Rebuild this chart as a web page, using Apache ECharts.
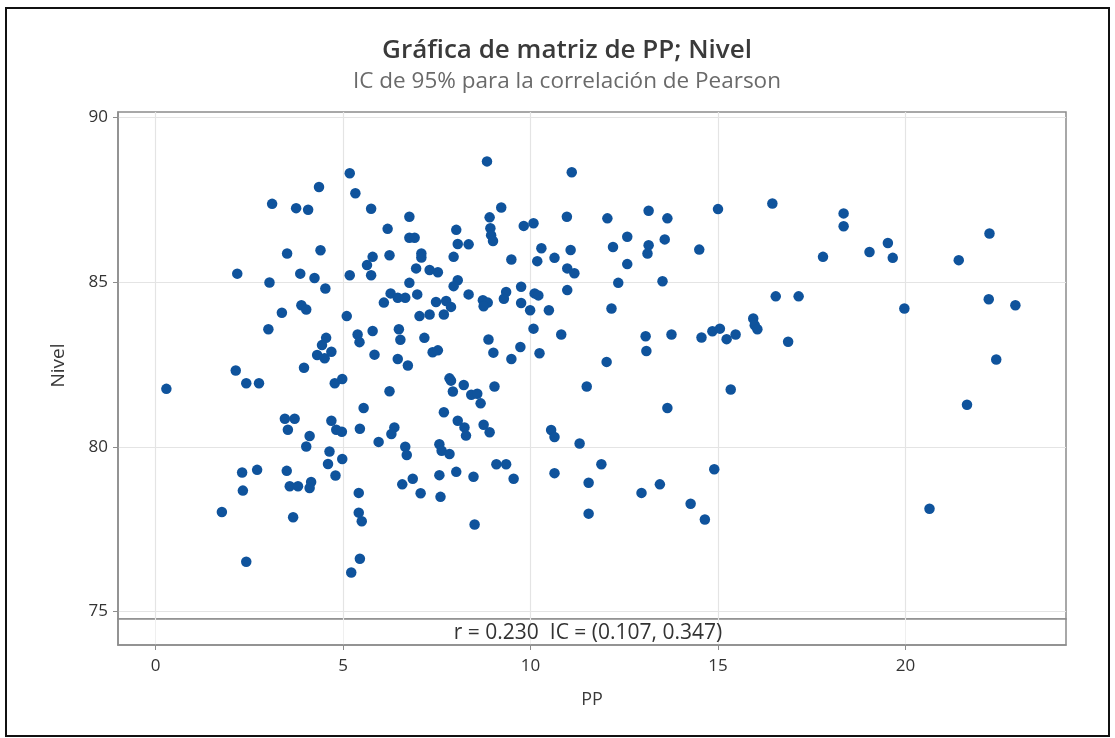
<!DOCTYPE html>
<html>
<head>
<meta charset="utf-8">
<script src="https://cdn.jsdelivr.net/npm/echarts@6/dist/echarts.min.js"></script>
<style>
html,body{margin:0;padding:0;background:#fff;}
#chart{width:1115px;height:738px;}
</style>
</head>
<body>
<div id="chart"></div>
<script>
const titleText = 'Gráfica de matriz de PP; Nivel';
const subtitleText = 'IC de 95% para la correlación de Pearson';
const corrText = 'r = 0.230  IC = (0.107, 0.347)';
const xName = 'PP';
const yName = 'Nivel';
const xTickValues = [0, 5, 10, 15, 20];
const yTickValues = [75, 80, 85, 90];

const ppValues = [
  5.18, 4.36, 5.33, 3.11, 3.75, 4.07, 3.51, 4.40, 2.18, 3.86,
  4.24, 5.18, 3.04, 4.53, 3.89, 4.02, 3.37, 5.10, 3.01, 4.55,
  4.44, 4.69, 4.31, 4.51, 2.14, 3.96,
  0.29, 2.42, 2.76, 4.78, 4.98, 3.45, 3.71, 3.53, 4.69, 4.82,
  4.97, 5.45, 4.11, 4.02, 4.64, 4.60, 4.98, 4.80, 5.42, 5.42,
  5.45, 5.22, 2.31, 2.71, 3.50, 3.58, 3.80, 4.15, 4.11, 2.33,
  1.77, 3.67, 2.42,
  8.84, 11.10, 5.75, 9.22, 6.77, 8.91, 10.97, 6.19, 6.77, 6.91,
  8.93, 8.95, 9.00, 9.82, 10.08, 8.02, 8.06, 8.35, 10.29, 11.07,
  10.64, 10.18, 9.49, 7.95, 7.09, 7.09, 6.24, 5.79, 5.64, 5.75,
  6.95, 7.31, 7.53, 10.98, 11.17, 8.06, 7.95, 6.77, 9.75, 10.98,
  6.98, 6.27, 6.46, 6.66, 6.09, 8.35, 9.35, 9.29, 8.73, 8.86,
  8.75, 10.11, 10.21, 9.75, 9.99, 10.49, 7.48, 7.75, 7.88, 7.04,
  7.31, 7.69, 5.39, 5.44, 5.79, 6.49, 6.53, 7.17, 10.82, 10.08,
  8.88, 5.84, 6.46, 6.73, 7.39, 7.53, 9.01, 9.73, 9.49, 10.24,
  7.84, 7.88, 7.93, 8.22, 8.42, 8.58, 8.67, 9.04, 11.50, 6.24,
  5.55, 7.69, 8.06, 8.24, 8.28, 8.75, 8.91, 6.37, 6.29, 5.95,
  6.66, 6.70, 7.57, 7.63, 7.84, 10.55, 10.64, 11.31, 9.09, 9.35,
  9.55, 8.02, 8.48, 7.57, 6.86, 6.58, 7.07, 7.60, 10.64, 11.55,
  11.55, 8.51, 5.50,
  16.45, 15.00, 13.15, 12.05, 13.65, 12.58, 13.58, 12.20, 13.15, 13.12,
  14.50, 17.80, 12.58, 12.34, 13.52, 16.54, 17.15, 12.16, 15.94, 15.98,
  16.05, 13.07, 13.76, 14.56, 14.85, 15.05, 15.23, 15.47, 16.87, 13.09,
  12.03,
  13.65, 15.34, 11.89, 14.90, 13.45, 12.96, 14.27, 14.65,
  18.35, 18.35, 22.24, 19.53, 19.04, 19.66, 21.42, 19.97, 22.22, 22.93,
  22.42, 21.64, 20.64
];

const nivelValues = [
  88.31, 87.89, 87.70, 87.38, 87.25, 87.20, 85.87, 85.97, 85.26, 85.26,
  85.13, 85.21, 84.99, 84.81, 84.30, 84.17, 84.07, 83.97, 83.57, 83.31,
  83.09, 82.89, 82.79, 82.69, 82.32, 82.40,
  81.76, 81.93, 81.93, 81.93, 82.06, 80.85, 80.85, 80.52, 80.79, 80.52,
  80.46, 80.55, 80.33, 80.01, 79.86, 79.48, 79.63, 79.13, 78.60, 78.00,
  76.60, 76.18, 79.22, 79.30, 79.27, 78.80, 78.80, 78.93, 78.75, 78.67,
  78.02, 77.86, 76.51,
  88.67, 88.34, 87.23, 87.27, 86.99, 86.97, 86.99, 86.62, 86.35, 86.35,
  86.64, 86.43, 86.25, 86.71, 86.79, 86.59, 86.16, 86.15, 86.03, 85.98,
  85.74, 85.64, 85.69, 85.77, 85.87, 85.75, 85.82, 85.77, 85.52, 85.21,
  85.42, 85.37, 85.30, 85.42, 85.27, 85.06, 84.88, 84.98, 84.86, 84.76,
  84.63, 84.66, 84.53, 84.53, 84.38, 84.63, 84.70, 84.50, 84.45, 84.38,
  84.27, 84.66, 84.60, 84.37, 84.15, 84.15, 84.40, 84.43, 84.25, 83.97,
  84.02, 84.02, 83.41, 83.18, 83.52, 83.57, 83.25, 83.31, 83.41, 83.59,
  83.26, 82.80, 82.67, 82.47, 82.87, 82.93, 82.86, 83.03, 82.67, 82.84,
  82.08, 82.01, 81.68, 81.88, 81.58, 81.61, 81.32, 81.83, 81.83, 81.69,
  81.18, 81.05, 80.79, 80.59, 80.34, 80.67, 80.44, 80.59, 80.39, 80.15,
  80.00, 79.75, 80.08, 79.88, 79.78, 80.51, 80.30, 80.10, 79.47, 79.47,
  79.03, 79.24, 79.09, 79.14, 79.03, 78.86, 78.59, 78.48, 79.20, 78.91,
  77.97, 77.64, 77.74,
  87.39, 87.22, 87.17, 86.94, 86.94, 86.38, 86.30, 86.07, 86.12, 85.87,
  85.99, 85.77, 85.55, 84.98, 85.03, 84.57, 84.57, 84.20, 83.90, 83.69,
  83.57, 83.36, 83.41, 83.32, 83.51, 83.59, 83.27, 83.41, 83.19, 82.91,
  82.58,
  81.18, 81.74, 79.47, 79.32, 78.86, 78.60, 78.27, 77.79,
  87.09, 86.70, 86.48, 86.19, 85.92, 85.74, 85.67, 84.20, 84.48, 84.30,
  82.65, 81.28, 78.12
];

const points = ppValues.map((v, i) => [v, nivelValues[i]]);

const FONT = '"Open Sans", "Noto Sans", sans-serif';
const chart = echarts.init(document.getElementById('chart'), null, {renderer: 'canvas'});

const option = {
  backgroundColor: '#ffffff',
  animation: false,
  title: [
    {
      text: titleText,
      left: 562, top: 33, textAlign: 'center',
      textStyle: {fontFamily: FONT, fontSize: 26, fontWeight: 600, color: '#3a3a3a'}
    },
    {
      text: subtitleText,
      left: 562, top: 65, textAlign: 'center',
      textStyle: {fontFamily: FONT, fontSize: 22.5, fontWeight: 'normal', color: '#6a6a6a'}
    }
  ],
  grid: [
    {left: 118, top: 112, width: 948, height: 507, show: true, borderColor: '#8c8c8c', borderWidth: 1.5, backgroundColor: '#fff'},
    {left: 118, top: 619, width: 948, height: 26, show: true, borderColor: '#8c8c8c', borderWidth: 1.5, backgroundColor: '#fff'}
  ],
  xAxis: [
    {
      gridIndex: 0, type: 'value', min: -1.0, max: 24.28,
      axisLine: {show: false, onZero: false},
      axisTick: {show: false, customValues: xTickValues},
      axisLabel: {show: false, customValues: xTickValues},
      splitLine: {show: true, lineStyle: {color: '#e4e4e4', width: 1.2}}
    },
    {
      gridIndex: 1, type: 'value', min: -1.0, max: 24.28,
      name: xName, nameLocation: 'middle', nameGap: 46,
      nameTextStyle: {fontFamily: FONT, fontSize: 18, color: '#3a3a3a'},
      axisLine: {show: true, onZero: false, lineStyle: {color: '#8c8c8c', width: 1.5}},
      axisTick: {show: true, length: 5, customValues: xTickValues, lineStyle: {color: '#8c8c8c'}},
      axisLabel: {show: true, customValues: xTickValues, margin: 13, fontFamily: FONT, fontSize: 17, color: '#333'},
      splitLine: {show: true, lineStyle: {color: '#efefef', width: 1}}
    }
  ],
  yAxis: [
    {
      gridIndex: 0, type: 'value', min: 74.77, max: 90.17,
      name: yName, nameLocation: 'middle', nameGap: 50, nameRotate: 90,
      nameTextStyle: {fontFamily: FONT, fontSize: 19, color: '#3a3a3a'},
      axisLine: {show: true, onZero: false, lineStyle: {color: '#8c8c8c', width: 1.5}},
      axisTick: {show: true, length: 5, customValues: yTickValues, lineStyle: {color: '#8c8c8c'}},
      axisLabel: {show: true, customValues: yTickValues, margin: 10, fontFamily: FONT, fontSize: 17, color: '#333'},
      splitLine: {show: true, lineStyle: {color: '#e4e4e4', width: 1.2}}
    },
    {
      gridIndex: 1, type: 'value', min: 0, max: 1,
      axisLine: {show: true, onZero: false, lineStyle: {color: '#8c8c8c', width: 1.5}},
      axisTick: {show: false}, axisLabel: {show: false}, splitLine: {show: false}
    }
  ],
  series: [
    {
      type: 'scatter', xAxisIndex: 0, yAxisIndex: 0,
      data: points, symbol: 'circle', symbolSize: 10.5,
      itemStyle: {color: '#0f539c', opacity: 1}
    }
  ],
  graphic: [
    {
      type: 'text', x: 588, y: 633, z: 100,
      style: {text: corrText, fontFamily: FONT, fontSize: 21, fill: '#333', align: 'center', verticalAlign: 'middle'}
    },
    {
      type: 'rect', z: 100, silent: true,
      shape: {x: 6, y: 8, width: 1103, height: 728},
      style: {fill: 'none', stroke: '#111', lineWidth: 2}
    }
  ]
};
chart.setOption(option);
</script>
</body>
</html>
